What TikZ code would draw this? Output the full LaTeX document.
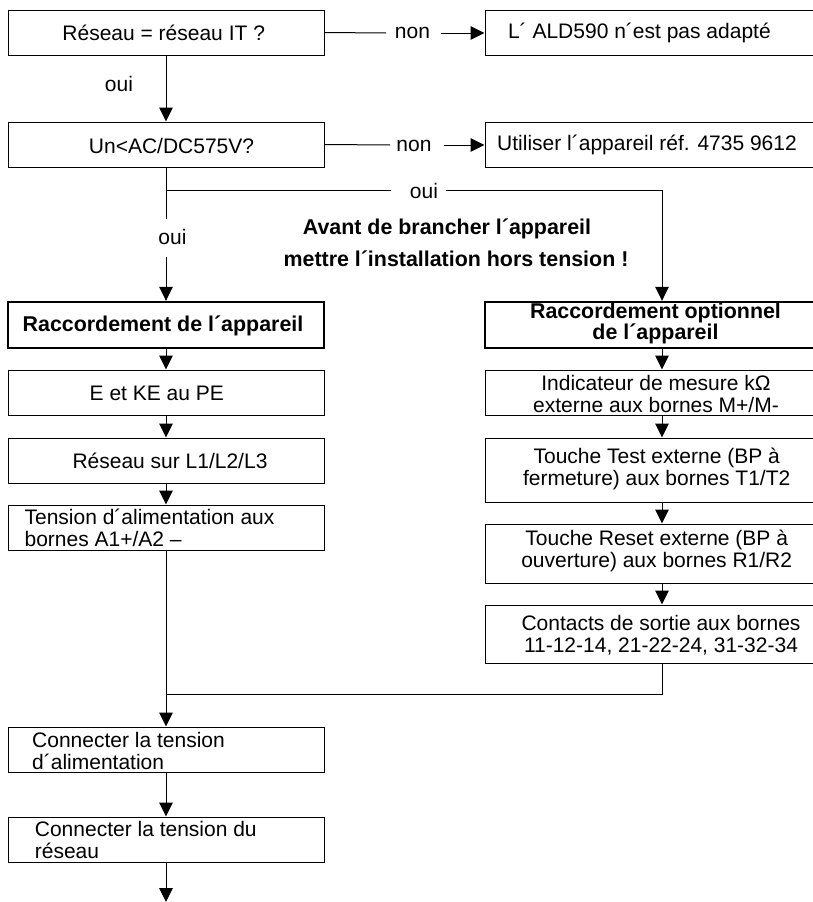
\documentclass[tikz,border=0pt]{standalone}
\usepackage{fontspec}
\setmainfont{Liberation Sans}
\usetikzlibrary{arrows.meta}
\tikzset{
  boxst/.style={draw=black,line width=1pt,inner sep=0pt,fill=white},
  heavy/.style={boxst,line width=2.4pt},
  txt/.style={inner sep=0pt,font=\fontsize{21}{22}\selectfont,align=center},
  txtl/.style={txt,align=left,anchor=west},
  txtb/.style={txt,font=\fontsize{21.4}{21}\bfseries\selectfont},
  conn/.style={line width=1pt,draw=black},
  arr/.style={conn,-{Triangle[length=14pt,width=13.5pt]}},
}
\newcommand\bx[6][boxst]{%
  \pgfmathsetmacro\bxw{#5-#3}\pgfmathsetmacro\bxh{#6-#4}%
  \pgfmathsetmacro\bxcx{(#3+#5)/2}\pgfmathsetmacro\bxcy{(#4+#6)/2}%
  \node[#1,minimum width=\bxw pt,minimum height=\bxh pt] (#2) at (\bxcx,\bxcy) {};}
\begin{document}
\begin{tikzpicture}[x=1pt,y=-1pt]
\clip (0,0) rectangle (813,902);
\fill[white] (0,0) rectangle (813,902);
% left column
\bx{q1}{8}{10}{324}{55}
\bx{q2}{8}{122}{324}{167}
\bx[heavy]{ra}{8}{302}{324}{348}
\bx{e}{8}{370}{324}{415}
\bx{res}{8}{438}{324}{483}
\bx{ten}{8}{505}{324}{550}
\bx{c1}{8}{727}{324}{772}
\bx{c2}{8}{817}{324}{862}
% right column
\bx{r1}{485}{10}{830}{55}
\bx{r2}{485}{122}{830}{167}
\bx[heavy]{rb}{485}{302}{830}{348}
\bx{ind}{485}{370}{830}{415}
\bx{tst}{485}{438}{830}{502}
\bx{rst}{485}{524}{830}{583}
\bx{con}{485}{605}{830}{663}
% texts
\node[txt] (q1t) at (163.7,33) {Réseau = réseau IT ?};
\node[txt] (q2t) at (171.5,145.5) {Un<AC/DC575V?};
\node[txt] (r1t) at (639.4,33) {L´ ALD590 n´est pas adapté};
\node[txt] (r2t) at (647,145) {Utiliser l´appareil réf. 4735 9612};
\node[txtb] (rat) at (163,326) {Raccordement de l´appareil};
\node[txtb] (rbt) at (655.5,323.5) {Raccordement optionnel\\de l´appareil};
\node[txt] (et) at (156.8,393) {E et KE au PE};
\node[txt] (rest) at (170,461) {Réseau sur L1/L2/L3};
\node[txtl] (tent) at (24.4,528) {Tension d´alimentation aux\\bornes A1+/A2 –};
\node[txt] (indt) at (656,394) {Indicateur de mesure kΩ\\externe aux bornes M+/M-};
\node[txt] (tstt) at (656.7,469) {Touche Test externe (BP à\\fermeture) aux bornes T1/T2};
\node[txt] (rstt) at (656.7,551) {Touche Reset externe (BP à\\ouverture) aux bornes R1/R2};
\node[txt] (cont) at (661,635) {Contacts de sortie aux bornes\\11-12-14, 21-22-24, 31-32-34};
\node[txtl] (c1t) at (32,750.5) {Connecter la tension\\d´alimentation};
\node[txtl] (c2t) at (34.7,840) {Connecter la tension du\\réseau};
% labels
\node[txt] (non1) at (412.5,33) {non};
\node[txt] (non2) at (414,146) {non};
\node[txt] (oui1) at (119,84) {oui};
\node[txt] (oui2) at (424,191) {oui};
\node[txt] (oui3) at (172.5,237) {oui};
\node[txtb] (warn1) at (447,229) {Avant de brancher l´appareil};
\node[txtb] (warn2) at (456,259) {mettre l´installation hors tension !};
% helper coordinates
\coordinate (rx) at (662,0);
\coordinate (b1) at (166,190);
\coordinate (b2) at (662,190);
\coordinate (g1) at (166,219);
\coordinate (g2) at (166,257);
\coordinate (j) at (166,694);
\coordinate (end) at (166,902);
\coordinate (h1e) at (386,33);
\coordinate (h1s) at (441,33);
\coordinate (h2e) at (390,145);
\coordinate (h2s) at (444,145);
\coordinate (h3e) at (391,190);
\coordinate (h3s) at (446,190);
% connectors
\draw[arr] (q1) -- (q2);
\draw[conn] (q1.east) -- (h1e);
\draw[arr] (h1s) -- (r1.west |- h1s);
\draw[conn] (q2.east) -- (h2e);
\draw[arr] (h2s) -- (r2.west |- h2s);
\draw[conn] (q2) -- (g1);
\draw[arr] (g2) -- (ra);
\draw[conn] (b1) -- (h3e);
\draw[arr] (h3s) -- (b2) -- (b2 |- rb.north);
\draw[arr] (ra) -- (e);
\draw[arr] (e) -- (res);
\draw[arr] (res) -- (ten);
\draw[arr] (ten) -- (c1);
\draw[arr] (c1) -- (c2);
\draw[arr] (c2) -- (end);
\draw[arr] (rb.south -| rx) -- (ind.north -| rx);
\draw[arr] (ind.south -| rx) -- (tst.north -| rx);
\draw[arr] (tst.south -| rx) -- (rst.north -| rx);
\draw[arr] (rst.south -| rx) -- (con.north -| rx);
\draw[conn] (con.south -| rx) -- (j -| rx) -- (j);
\end{tikzpicture}
\end{document}
